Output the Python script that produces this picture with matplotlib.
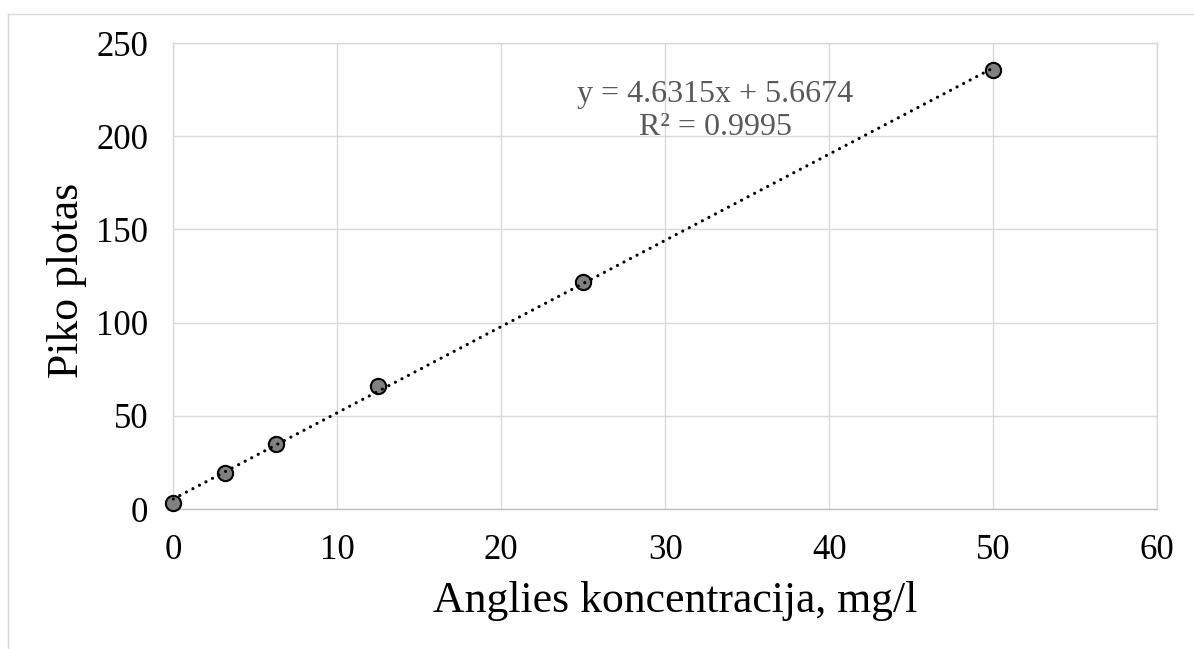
import matplotlib
matplotlib.use("Agg")
import matplotlib.pyplot as plt
import numpy as np
from matplotlib.lines import Line2D

# Data
concentration = [0, 3.125, 6.25, 12.5, 25, 50]
peak_area = [3.1, 19.1, 34.7, 66.1, 121.9, 235.5]
x_ticks = [0, 10, 20, 30, 40, 50, 60]
y_ticks = [0, 50, 100, 150, 200, 250]
equation_text = "y = 4.6315x + 5.6674\nR² = 0.9995"
x_title = "Anglies koncentracija, mg/l"
y_title = "Piko plotas"

plt.rcParams['font.family'] = ['Liberation Serif', 'DejaVu Serif']

W, H = 1194, 649
fig = plt.figure(figsize=(W / 100, H / 100), dpi=100)
ax = fig.add_axes([173.3 / W, 1 - 509 / H, (1157.3 - 173.3) / W, (509 - 43) / H])

grid_c = '#d9d9d9'
ax.set_xlim(0, 60)
ax.set_ylim(0, 250)
ax.set_xticks(x_ticks)
ax.set_yticks(y_ticks)
ax.grid(True, color=grid_c, linewidth=1.0)
ax.set_axisbelow(True)
for s in ['top', 'right', 'left']:
    ax.spines[s].set_color(grid_c)
    ax.spines[s].set_linewidth(1.0)
ax.spines['bottom'].set_color('#bfbfbf')
ax.spines['bottom'].set_linewidth(1.0)
ax.tick_params(length=0, labelsize=25, pad=18, colors='black')

# Trendline
xs = np.array(concentration, dtype=float)
ys = np.array(peak_area, dtype=float)
slope, intercept = np.polyfit(xs, ys, 1)
xl = np.array([xs.min(), xs.max()])
ax.plot(xl, slope * xl + intercept, color='black', linewidth=2.3,
        linestyle=(0, (0.01, 2.3)), dash_capstyle='round', zorder=5,
        clip_on=False)

ax.plot(concentration, peak_area, linestyle='none', marker='o', markersize=11,
        markerfacecolor='#808080', markeredgecolor='black', markeredgewidth=1.5,
        zorder=4, clip_on=False)

ax.text(33.05, 213.5, equation_text, ha='center', va='center', fontsize=23,
        color='#595959', linespacing=1.2)

fig.text(675 / W, 1 - 601 / H, x_title, ha='center', va='center', fontsize=31.5)
fig.text(67 / W, 1 - 280 / H, y_title, ha='center', va='center', fontsize=31.5,
         rotation=90)

# outer chart border (left and top visible)
fig.add_artist(Line2D([7.5 / W, 7.5 / W], [0, 1 - 13.5 / H], color=grid_c,
                      linewidth=1.0, transform=fig.transFigure))
fig.add_artist(Line2D([7.5 / W, 1193 / W], [1 - 13.5 / H, 1 - 13.5 / H],
                      color=grid_c, linewidth=1.0, transform=fig.transFigure))

fig.savefig("out.png", dpi=100)
